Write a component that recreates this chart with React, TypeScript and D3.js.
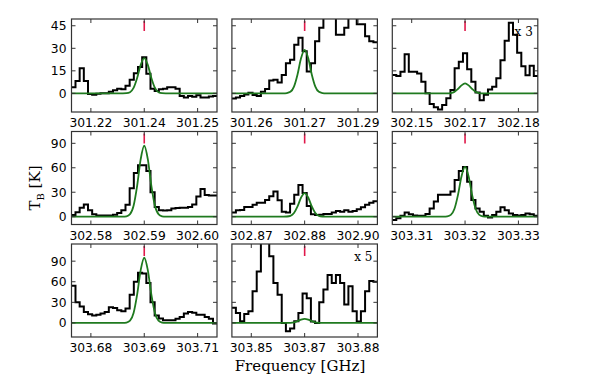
import React from "react";
import * as d3 from "d3";

// brightness temperature per channel (35 channels per panel), K
const spec1 = [4, 8.3, 16.8, 8.3, -0.5, -1, -0.3, 0, 0, 1, 2, 3, 2.7, 5, 9, 13.4, 17.5, 24, 13, 3, 1.5, 2.7, 3, 4, 4, 3, -1.8, -2.7, -1.8, -2.2, -1.3, -2.7, -2.7, -2, -1.8]
const spec2 = [-3.4, -2.7, -1.8, -0.7, 0.4, -1.1, -1.8, 1.1, 2.9, 8.5, 9, 7.2, 12.3, 20, 22.4, 32.4, 37, 28, 14.5, 20, 34.7, 43.6, 55, 58, 56, 39, 39, 43.6, 52, 53, 46, 46, 38, 34.7, 34]
const spec3 = [12.2, 11.6, 14.4, 26, 14.4, 14.4, 13.3, 7.8, 0, -7, -9.3, -10.7, -7.8, -3.3, 2.2, 16.7, 21, 26.7, 16, 7.8, 0.5, -4.5, -1, 2.5, 4.4, 10, 22, 35, 47, 39, 27, 18, 12, 18.4, 11.6]
const spec4 = [2, 5.3, 11, 15, 8, 3, 1.5, 1.5, 1.5, 1.5, 2.5, 4.5, 8, 14.5, 35, 53.5, 63, 63, 56, 30, 12, 8, 7.5, 8, 10, 10.5, 11, 11, 12, 15, 24.7, 34, 26.7, 26, 26]
const spec5 = [5, 8, 8.3, 12, 12, 14.5, 17, 17, 20.6, 25, 31, 20, 6, 5, 16, 27, 39, 29, 13, 3, 2, 2.5, 3.3, 3.3, 5, 7, 6, 8, 6, 7, 9, 11.6, 14.5, 17, 19]
const spec6 = [-4, -2, 1, 5, 3, 1.5, 1, 1, 3.3, 10, 18.6, 27, 27, 27, 31, 45, 56, 61, 43, 20.6, 10, 6, 1, -1, 2, 6, 11.6, 8, 4, 2, 1.5, 2, 4, 3, 1]
const spec7 = [54, 30, 24, 16, 12.6, 11, 12, 13.6, 16, 23, 21.8, 18.4, 17, 21, 41, 60, 73, 72, 58, 30, 11, 6.3, 4, 4, 4, 6, 8.7, 13.6, 16, 15, 12, 12, 8.7, 6, -1]
const spec8 = [22, 14.6, 2.4, 13, 17, 46, 75, 118, 118, 97, 58, 41, 0, -12, -8, 2.4, 14.6, 43, 36, 2, 0, 30, 48.6, 70, 58, 70, 58, 27, 53.5, 17, 2, 17, 46, 61, 60]
const spectra = [spec1, spec2, spec3, spec4, spec5, spec6, spec7, spec8]

// fitted model, sampled at offsets (MHz) from line centre
const modelOffsets = [-20.5, -6, -5, -4, -3, -2, -1, 0, 1, 2, 3, 4, 5, 6, 20.5]
const model1 = [0, 0, 0.1, 0.8, 3.6, 10.2, 19, 23.5, 19, 10.2, 3.6, 0.8, 0.1, 0, 0]
const model2 = [0, 0, 0.2, 1, 4.5, 12.6, 23.5, 29, 23.5, 12.6, 4.5, 1, 0.2, 0, 0]
const model3 = [0, 0, 0, 0.2, 1, 2.9, 5.3, 6.6, 5.3, 2.9, 1, 0.2, 0, 0, 0]
const model4 = [0, 0, 0.5, 3.1, 13.4, 37.8, 70.5, 87, 70.5, 37.8, 13.4, 3.1, 0.5, 0, 0]
const model5 = [0, 0, 0.2, 1, 4.5, 12.6, 23.5, 29, 23.5, 12.6, 4.5, 1, 0.2, 0, 0]
const model6 = [0, 0, 0.4, 2.2, 9.4, 26.5, 49.4, 61, 49.4, 26.5, 9.4, 2.2, 0.4, 0, 0]
const model7 = [0, 0, 0.6, 3.4, 14.6, 41.3, 77, 95, 77, 41.3, 14.6, 3.4, 0.6, 0, 0]
const model8 = [0, 0, 0, 0.2, 0.9, 2.6, 4.9, 6, 4.9, 2.6, 0.9, 0.2, 0, 0, 0]
const models = [model1, model2, model3, model4, model5, model6, model7, model8]

const tickOffsets = [-15, 0, 15]
const tickLabels = [
  ["301.22", "301.24", "301.25"],
  ["301.26", "301.27", "301.29"],
  ["302.15", "302.17", "302.18"],
  ["302.58", "302.59", "302.60"],
  ["302.87", "302.88", "302.90"],
  ["303.31", "303.32", "303.33"],
  ["303.68", "303.69", "303.71"],
  ["303.85", "303.87", "303.88"],
]
const scaleNotes = ["", "", "x 3", "", "", "", "", "x 5"]

const rowDomains = [[-12.4, 49.5], [-9.6, 104.5], [-20.5, 115]]
const rowTicks = [[0, 15, 30, 45], [0, 30, 60, 90], [0, 30, 60, 90]]

const nChan = 35
const chanStart = -20.5
const chanWidth = 41 / nChan

const W = 598, H = 377
const left0 = 71.5, top0 = 19
const panelW = 145.5, panelH = 93
const colStep = 160.4, rowStep = 112.5
const tickLen = 4

const sans = "DejaVu Sans, sans-serif"
const serif = "DejaVu Serif, serif"

function Panel({ idx }) {
  const row = Math.floor(idx / 3), col = idx % 3
  const x0 = left0 + col * colStep
  const y0 = top0 + row * rowStep

  const x = d3.scaleLinear().domain([-20.45, 20.45]).range([0, panelW])
  const y = d3.scaleLinear().domain(rowDomains[row]).range([panelH, 0])

  const spec = spectra[idx]
  const edges = d3.range(nChan + 1).map(i => chanStart + i * chanWidth)
  const stepPts = spec.map((v, i) => [edges[i], v]).concat([[edges[nChan], spec[nChan - 1]]])
  const step = d3.line().x(d => x(d[0])).y(d => y(d[1])).curve(d3.curveStepAfter)

  const fit = d3.line().x(d => x(d[0])).y(d => y(d[1])).curve(d3.curveMonotoneX)
  const fitPts = modelOffsets.map((o, i) => [o, models[idx][i]])

  const clipId = `clip-${idx}`

  return (
    <g transform={`translate(${x0},${y0})`}>
      <clipPath id={clipId}>
        <rect width={panelW} height={panelH} />
      </clipPath>
      <g clipPath={`url(#${clipId})`}>
        <path d={step(stepPts)} fill="none" stroke="black" strokeWidth={2} strokeLinejoin="miter" />
        <path d={fit(fitPts)} fill="none" stroke="#1f7a1f" strokeWidth={1.8} />
      </g>
      <line x1={x(0)} x2={x(0)} y1={2} y2={12} stroke="#e0184a" strokeWidth={1.6} />

      {/* ticks, all four sides pointing in */}
      {tickOffsets.map(t => (
        <g key={`xt${t}`}>
          <line x1={x(t)} x2={x(t)} y1={panelH} y2={panelH - tickLen} stroke="#333" />
          <line x1={x(t)} x2={x(t)} y1={0} y2={tickLen} stroke="#333" />
        </g>
      ))}
      {rowTicks[row].map(t => (
        <g key={`yt${t}`}>
          <line x1={0} x2={tickLen} y1={y(t)} y2={y(t)} stroke="#333" />
          <line x1={panelW} x2={panelW - tickLen} y1={y(t)} y2={y(t)} stroke="#333" />
        </g>
      ))}
      <rect width={panelW} height={panelH} fill="none" stroke="#333" strokeWidth={1.2} />

      {tickOffsets.map((t, i) => (
        <text key={`xl${t}`} x={x(t)} y={panelH + 15} textAnchor="middle"
          style={{ fontFamily: sans, fontSize: "12.3px" }}>{tickLabels[idx][i]}</text>
      ))}
      {col === 0 && rowTicks[row].map(t => (
        <text key={`yl${t}`} x={-5} y={y(t)} dy="0.36em" textAnchor="end"
          style={{ fontFamily: sans, fontSize: "12.3px" }}>{t}</text>
      ))}
      {scaleNotes[idx] && (
        <text x={panelW - 5} y={17} textAnchor="end"
          style={{ fontFamily: serif, fontSize: "12px" }}>{scaleNotes[idx]}</text>
      )}
    </g>
  )
}

export default function App() {
  return (
    <svg width={W} height={H} style={{ position: "absolute", left: 0, top: 0, background: "white" }}>
      {spectra.map((s, i) => <Panel key={i} idx={i} />)}
      <text x={300} y={371} textAnchor="middle" style={{ fontFamily: serif, fontSize: "15px" }}>Frequency [GHz]</text>
      <text transform="translate(40,188) rotate(-90)" textAnchor="middle" style={{ fontFamily: serif, fontSize: "15px" }}>
        T<tspan dy="4" style={{ fontSize: "10px" }}>B</tspan><tspan dy="-4"> [K]</tspan>
      </text>
    </svg>
  )
}
